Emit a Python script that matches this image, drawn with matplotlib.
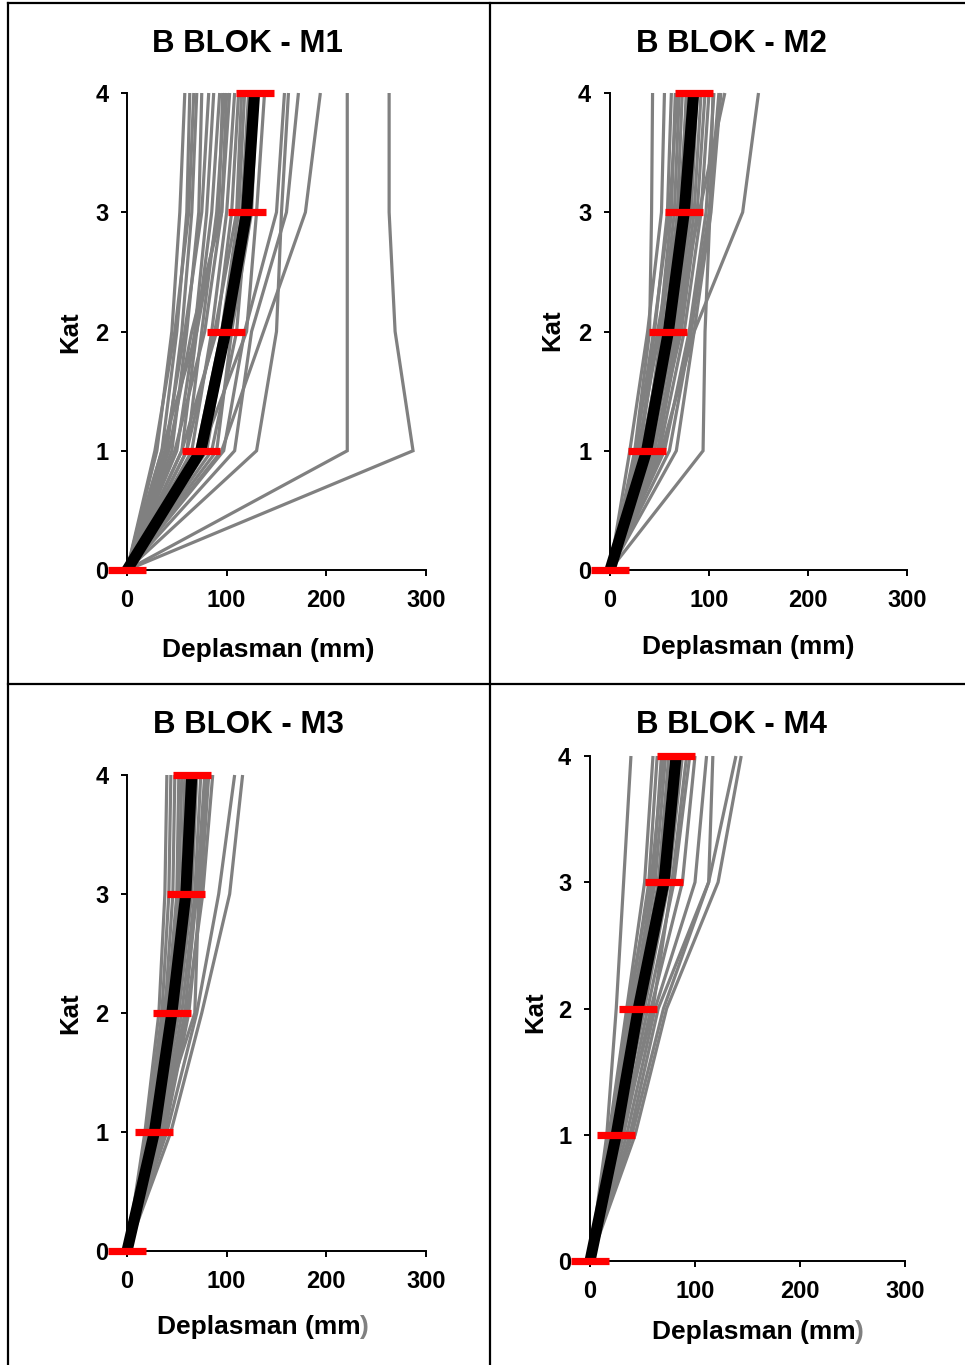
import matplotlib
matplotlib.use("Agg")
import matplotlib.pyplot as plt
from matplotlib.lines import Line2D

plt.rcParams['font.family'] = ['Liberation Sans', 'DejaVu Sans']
plt.rcParams['font.weight'] = 'bold'

floors = [0, 1, 2, 3, 4]
x_ticks = [0, 100, 200, 300]
y_ticks = [0, 1, 2, 3, 4]
titles = ["B BLOK - M1", "B BLOK - M2", "B BLOK - M3", "B BLOK - M4"]
x_label = "Deplasman (mm)"
y_label = "Kat"

m1_lines = [
    [0, 30, 45, 53, 58], [0, 35, 50, 60, 63], [0, 28, 48, 62, 67],
    [0, 40, 55, 65, 70], [0, 45, 60, 72, 75], [0, 38, 58, 75, 82],
    [0, 50, 68, 80, 87], [0, 55, 70, 85, 93], [0, 60, 75, 90, 98],
    [0, 42, 65, 95, 103], [0, 65, 85, 100, 108], [0, 55, 90, 105, 112],
    [0, 70, 95, 112, 118], [0, 80, 100, 115, 122], [0, 85, 110, 120, 125],
    [0, 90, 105, 125, 130], [0, 75, 120, 130, 138], [0, 130, 150, 155, 162],
    [0, 108, 125, 160, 172], [0, 95, 137, 179, 194], [0, 221, 221, 221, 221],
    [0, 287, 269, 263, 263], [0, 97, 118, 150, 158], [0, 60, 88, 110, 115],
    [0, 48, 78, 95, 100], [0, 35, 70, 92, 96],
]
m1_mean = [0, 74, 99, 120, 128]

m2_lines = [
    [0, 25, 40, 42, 43], [0, 20, 38, 52, 55], [0, 30, 45, 58, 62],
    [0, 28, 50, 62, 66], [0, 35, 52, 65, 70], [0, 32, 55, 68, 73],
    [0, 38, 58, 72, 77], [0, 40, 60, 75, 80], [0, 36, 62, 78, 83],
    [0, 42, 65, 80, 86], [0, 45, 68, 82, 88], [0, 48, 70, 85, 92],
    [0, 44, 72, 88, 96], [0, 50, 75, 92, 100], [0, 55, 80, 97, 105],
    [0, 60, 82, 100, 110], [0, 67, 85, 102, 112], [0, 94, 96, 101, 104],
    [0, 52, 85, 134, 150], [0, 30, 48, 70, 78], [0, 40, 66, 90, 116],
    [0, 26, 44, 60, 68],
]
m2_mean = [0, 37, 59, 75, 84.5]

m3_lines = [
    [0, 18, 32, 38, 40], [0, 20, 35, 42, 44], [0, 22, 38, 46, 48],
    [0, 24, 40, 50, 52], [0, 25, 42, 52, 55], [0, 26, 44, 55, 58],
    [0, 28, 46, 58, 62], [0, 27, 48, 60, 64], [0, 30, 50, 62, 67],
    [0, 32, 52, 65, 70], [0, 34, 55, 68, 74], [0, 35, 58, 70, 78],
    [0, 38, 62, 74, 82], [0, 36, 60, 76, 86], [0, 40, 70, 92, 108],
    [0, 44, 75, 103, 116], [0, 30, 68, 72, 80], [0, 22, 36, 58, 60],
]
m3_mean = [0, 27.5, 45, 59, 65]

m4_lines = [
    [0, 16, 25, 32, 39], [0, 18, 35, 52, 60], [0, 20, 38, 56, 64],
    [0, 22, 40, 60, 68], [0, 23, 42, 62, 72], [0, 25, 44, 65, 75],
    [0, 24, 46, 68, 78], [0, 26, 48, 70, 80], [0, 28, 50, 72, 84],
    [0, 27, 52, 75, 88], [0, 30, 55, 80, 95], [0, 32, 58, 88, 100],
    [0, 35, 62, 100, 111], [0, 38, 65, 113, 117], [0, 40, 70, 113, 139],
    [0, 43, 73, 122, 144], [0, 30, 60, 78, 92], [0, 20, 36, 58, 70],
]
m4_mean = [0, 25, 46, 70.5, 82]

all_lines = [m1_lines, m2_lines, m3_lines, m4_lines]
all_means = [m1_mean, m2_mean, m3_mean, m4_mean]

W, H = 965, 1365
fig = plt.figure(figsize=(W / 100, H / 100), dpi=100)
renderer = fig.canvas.get_renderer()

# axes boxes in pixels: (x0, x300, y_top(4), y_bottom(0))
boxes = [(127, 426, 93, 570), (610, 907, 93, 570),
         (127, 426, 775, 1251), (590, 905, 756, 1261)]
title_pos = [(247, 44), (731, 44), (248, 725), (731, 725)]
xlabel_pos = [(268, 650), (748, 647), (263, 1327), (758, 1332)]
ylabel_pos = [(70, 332), (552, 330), (70, 1013), (535, 1012)]
gray_paren = [False, False, True, True]

for i in range(4):
    x0, x1, yt, yb = boxes[i]
    ax = fig.add_axes([x0 / W, 1 - yb / H, (x1 - x0) / W, (yb - yt) / H])
    for ln in all_lines[i]:
        ax.plot(ln, floors, color='#808080', lw=2.3, clip_on=False,
                solid_joinstyle='miter', solid_capstyle='butt', zorder=2)
    ax.plot(all_means[i], floors, color='black', lw=8, clip_on=False,
            solid_joinstyle='round', solid_capstyle='butt', zorder=3)
    ax.plot(all_means[i], floors, ls='none', marker='_', ms=27, mew=5.2,
            color='#FF0000', clip_on=False, zorder=5)
    ax.set_xlim(0, 300)
    ax.set_ylim(0, 4)
    ax.set_xticks(x_ticks)
    ax.set_yticks(y_ticks)
    for s in ['top', 'right']:
        ax.spines[s].set_visible(False)
    for s in ['left', 'bottom']:
        ax.spines[s].set_linewidth(1.4)
        ax.spines[s].set_zorder(4)
    ax.tick_params(direction='out', length=4.5, width=1.4, pad=9,
                   labelsize=17)
    for lab in ax.get_xticklabels() + ax.get_yticklabels():
        lab.set_fontweight('bold')
    tx, ty = title_pos[i]
    fig.text(tx / W, 1 - ty / H, titles[i], ha='center', va='center',
             fontsize=22.5, fontweight='bold')
    lx, ly = xlabel_pos[i]
    if gray_paren[i]:
        tmp = fig.text(0, 0, x_label, fontsize=19, fontweight='bold')
        w_full = tmp.get_window_extent(renderer).width
        tmp.remove()
        tmp = fig.text(0, 0, ")", fontsize=19, fontweight='bold')
        w_p = tmp.get_window_extent(renderer).width
        tmp.remove()
        left = lx - w_full / 2
        fig.text(left / W, 1 - ly / H, x_label[:-1], ha='left', va='center',
                 fontsize=19, fontweight='bold')
        fig.text((left + w_full - w_p) / W, 1 - ly / H, ")", ha='left',
                 va='center', fontsize=19, fontweight='bold', color='#808080')
    else:
        fig.text(lx / W, 1 - ly / H, x_label, ha='center', va='center',
                 fontsize=19, fontweight='bold')
    kx, ky = ylabel_pos[i]
    fig.text(kx / W, 1 - ky / H, y_label, ha='center', va='center',
             rotation=90, fontsize=18.5, fontweight='bold')

# table borders
lw = 1.6
fig.add_artist(Line2D([8 / W, 8 / W], [0, 1 - 3 / H], color='black', lw=lw,
                      transform=fig.transFigure))
fig.add_artist(Line2D([490 / W, 490 / W], [0, 1 - 3 / H], color='black', lw=lw,
                      transform=fig.transFigure))
fig.add_artist(Line2D([8 / W, 1], [1 - 3 / H, 1 - 3 / H], color='black', lw=lw,
                      transform=fig.transFigure))
fig.add_artist(Line2D([8 / W, 1], [1 - 684 / H, 1 - 684 / H], color='black', lw=lw,
                      transform=fig.transFigure))

fig.savefig("out.png", dpi=100)
